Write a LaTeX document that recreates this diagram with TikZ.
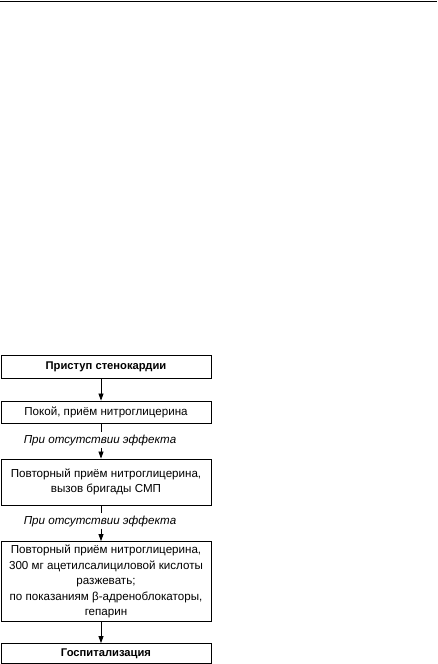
\documentclass[tikz,border=0pt]{standalone}
\usepackage{fontspec}
\setmainfont{Liberation Sans}
\usetikzlibrary{arrows.meta}
\begin{document}
\begin{tikzpicture}[x=1pt,y=1pt,
  box/.style={draw,line width=0.9pt,minimum width=210pt,inner sep=0pt,align=center,font=\fontsize{11.6}{15.6}\selectfont},
  lab/.style={inner sep=0pt,font=\itshape\fontsize{11.6}{13}\selectfont},
  conn/.style={line width=0.8pt},
  arr/.style={conn,-{Triangle[width=5pt,length=7pt]}}]
\useasboundingbox (0,0) rectangle (438,-664);
\draw[line width=1pt] (0,-1.5) -- (437,-1.5);
\coordinate (ax) at (101,0);
\node[box,minimum height=23pt,font=\bfseries\fontsize{11.2}{15}\selectfont] (b1) at (106,-366.5) {Приступ стенокардии};
\node[box,minimum height=22pt] (b2) at (106,-412) {Покой, приём нитроглицерина};
\node[lab] (l1) at (100,-440) {При отсутствии эффекта};
\node[box,minimum height=46pt] (b3) at (106,-482) {Повторный приём нитроглицерина,\\вызов бригады СМП};
\node[lab] (l2) at (100,-521) {При отсутствии эффекта};
\node[box,minimum height=80pt] (b4) at (106,-581.5) {Повторный приём нитроглицерина,\\300 мг ацетилсалициловой кислоты\\разжевать;\\по показаниям β-адреноблокаторы,\\гепарин};
\node[box,minimum height=20pt,font=\bfseries\fontsize{11.2}{15}\selectfont] (b5) at (106,-653.5) {Госпитализация};
\draw[arr] (b1.south -| ax) -- (b2.north -| ax);
\draw[conn] (b2.south -| ax) -- ([yshift=2pt]l1.north -| ax);
\draw[arr] ([yshift=-2pt]l1.south -| ax) -- (b3.north -| ax);
\draw[conn] (b3.south -| ax) -- ([yshift=2pt]l2.north -| ax);
\draw[arr] ([yshift=-2pt]l2.south -| ax) -- (b4.north -| ax);
\draw[arr] (b4.south -| ax) -- (b5.north -| ax);
\end{tikzpicture}
\end{document}
